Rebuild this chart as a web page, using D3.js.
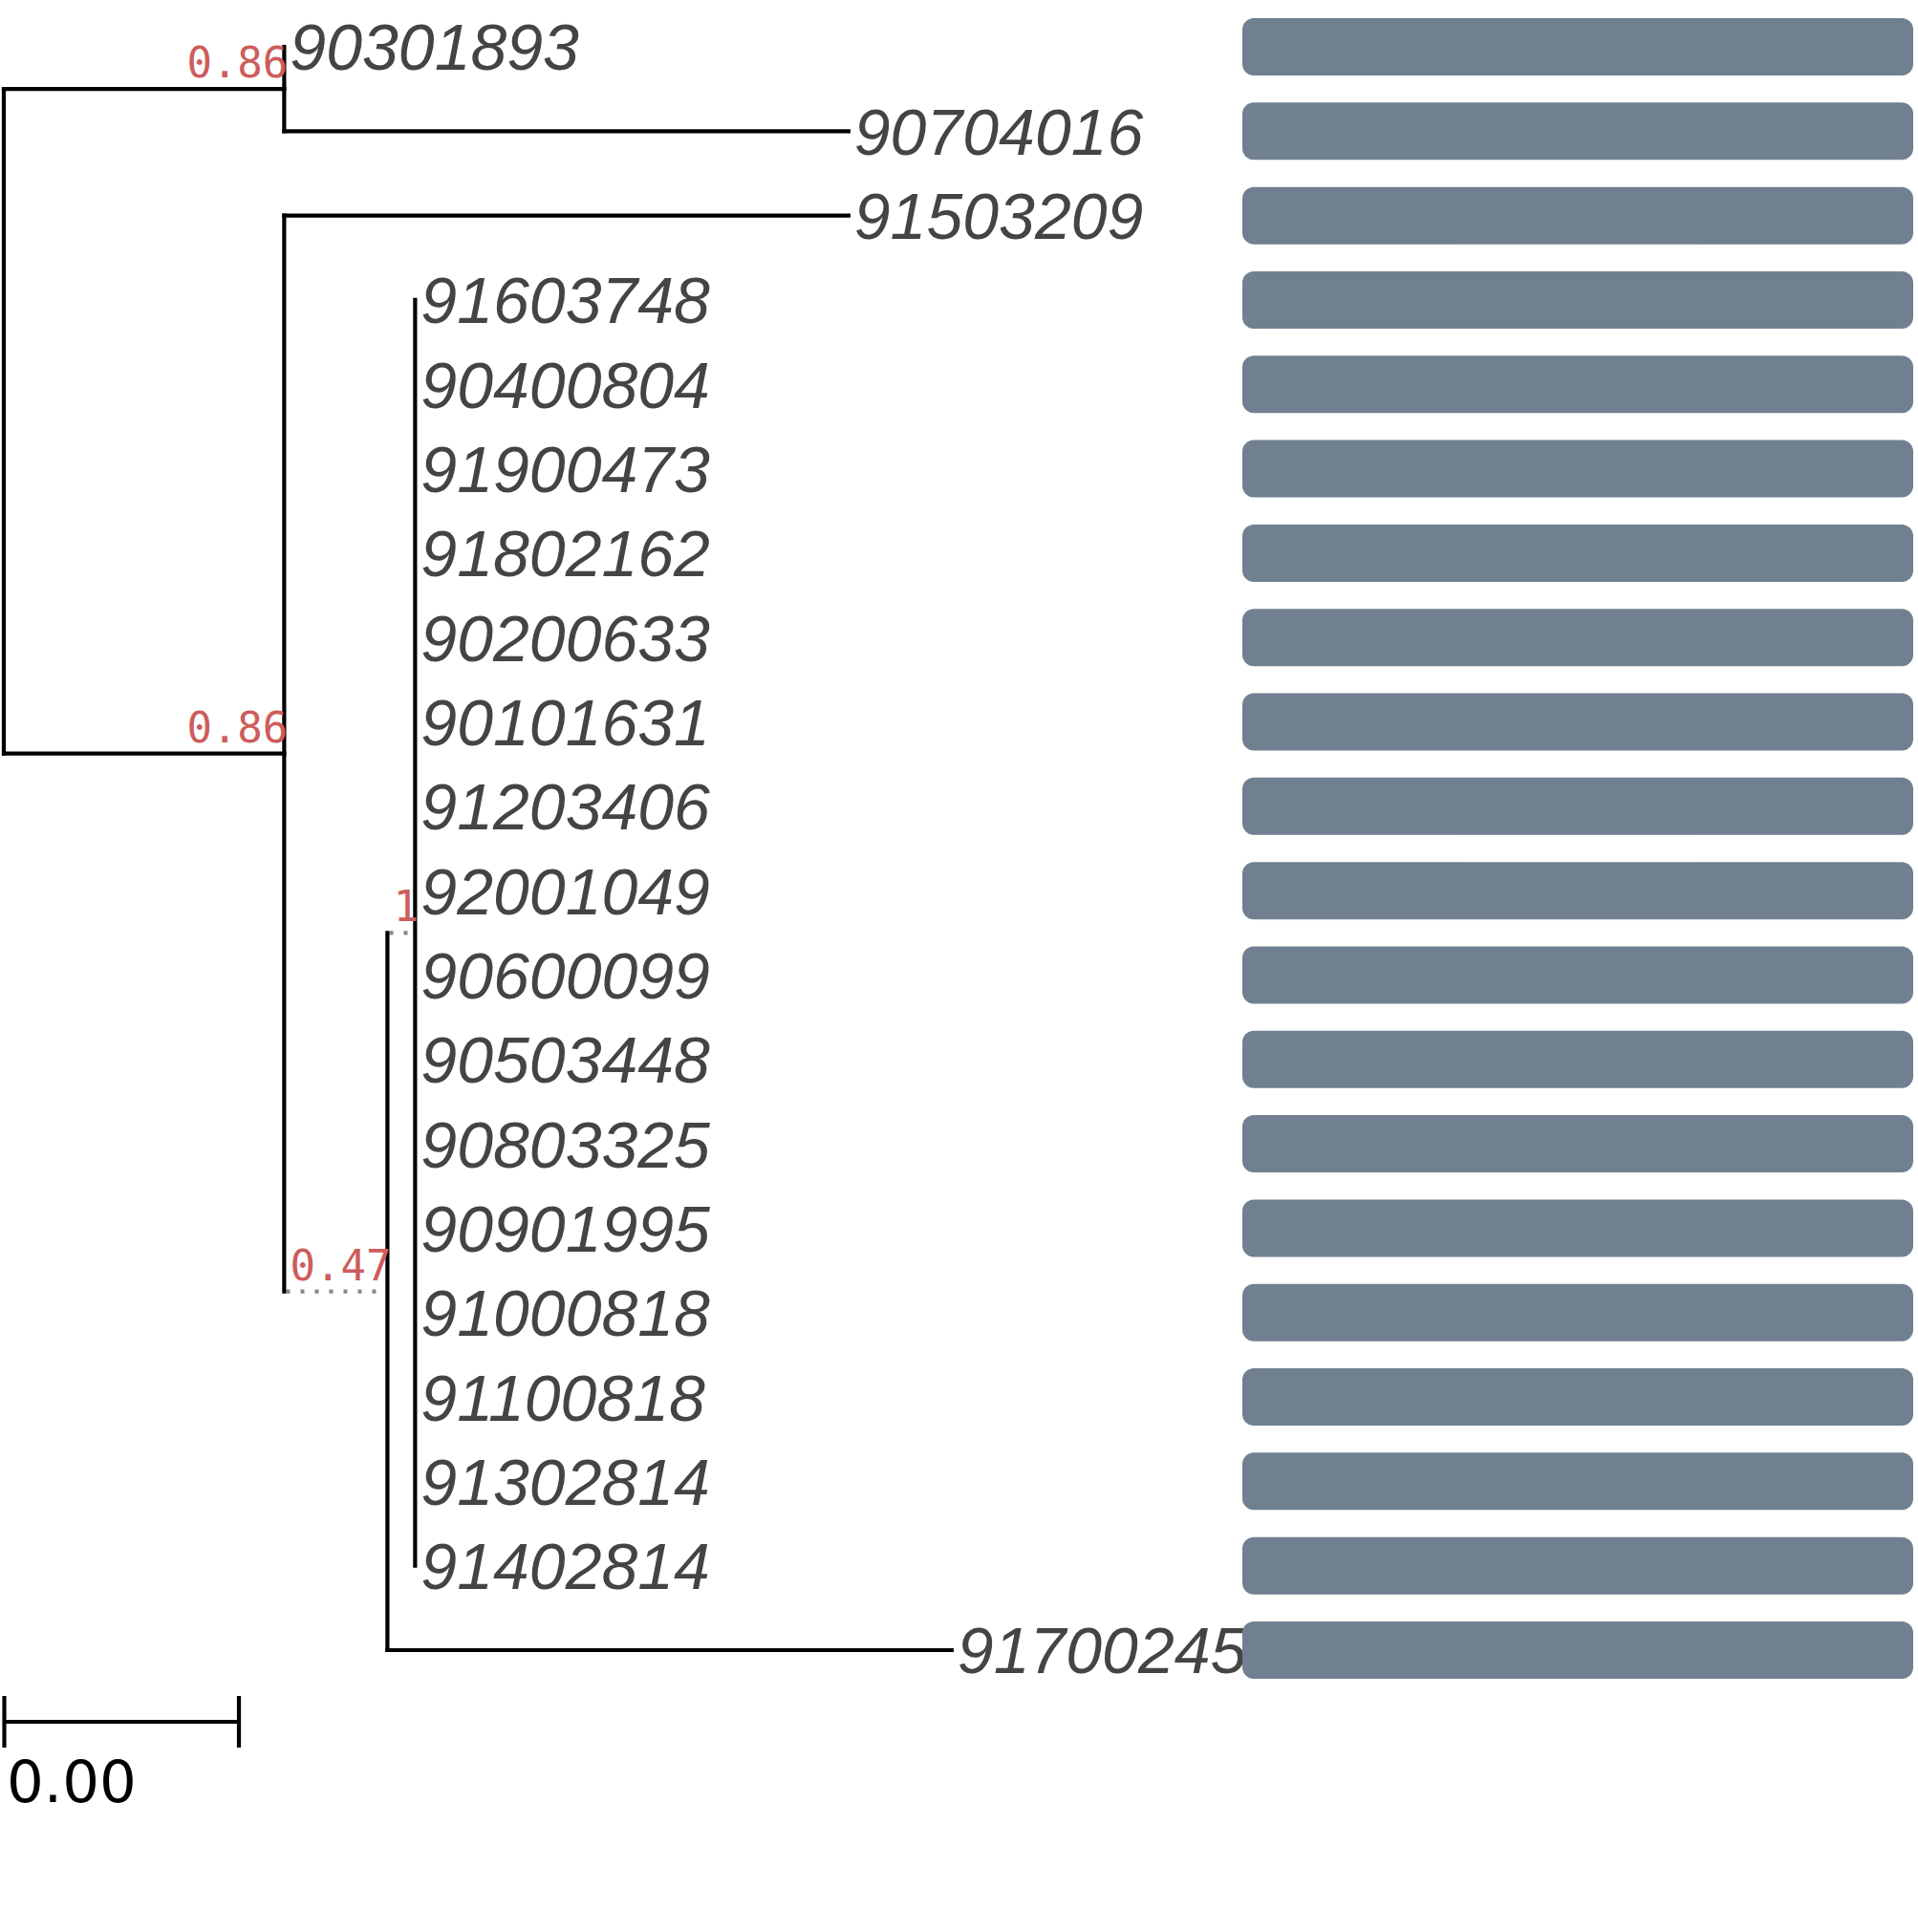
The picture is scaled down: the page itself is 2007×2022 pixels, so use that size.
<!DOCTYPE html>
<html>
<head>
<meta charset="utf-8">
<script src="https://cdn.jsdelivr.net/npm/d3@7"></script>
<style>
  body { margin: 0; background: #fff; }
</style>
</head>
<body>
<svg id="chart" width="2007" height="2022"></svg>
<script>
// tips, top to bottom
const tipLabels = ["90301893", "90704016", "91503209", "91603748", "90400804", "91900473",
  "91802162", "90200633", "90101631", "91203406", "92001049", "90600099", "90503448",
  "90803325", "90901995", "91000818", "91100818", "91302814", "91402814", "91700245"];
const tipParents = ["n21", "n21", "n22", "n24", "n24", "n24", "n24", "n24", "n24", "n24",
  "n24", "n24", "n24", "n24", "n24", "n24", "n24", "n24", "n24", "n23"];
const tipLengths = [0, 0.00481, 0.00481, 0, 0, 0, 0, 0, 0, 0, 0, 0, 0, 0, 0, 0, 0, 0, 0, 0.00481];

// internal nodes
const nodeIds = ["root", "n21", "n22", "n23", "n24"];
const nodeParents = ["", "root", "root", "n22", "n23"];
const nodeLengths = [0, 0.00239, 0.00239, 0.00088, 0.000236];
const nodeSupport = [null, "0.86", "0.86", "0.47", "1"];
const dottedEdges = ["n23", "n24"];

// bar panel
const barValues = [1, 1, 1, 1, 1, 1, 1, 1, 1, 1, 1, 1, 1, 1, 1, 1, 1, 1, 1, 1];

const treeScaleLength = 0.002;

let svg = d3.select("#chart");
const lw = 4.2;

// build table for stratify
let rows = nodeIds.map((id, i) => ({id: id, parent: nodeParents[i], length: nodeLengths[i], support: nodeSupport[i]}))
  .concat(tipLabels.map((id, i) => ({id: id, parent: tipParents[i], length: tipLengths[i], support: null})));

let root = d3.stratify()
  .id(d => d.id)
  .parentId(d => d.parent || null)(rows);

// depth from root
root.eachBefore(n => {
  n.depthLen = n.parent ? n.parent.depthLen + n.data.length : 0;
});
// y: tips by order, internal = mean of children
root.eachAfter(n => {
  if (!n.children) n.row = tipLabels.indexOf(n.id);
  else n.row = d3.mean(n.children, c => c.row);
});

let x = d3.scaleLinear().domain([0, 0.008]).range([4, 986]);
let y = d3.scaleLinear().domain([0, tipLabels.length - 1]).range([49, 1727]);
let xBar = d3.scaleLinear().domain([0, 1]).range([1300, 2002]);

let g = svg.append("g");

// horizontal branches (zero length ones draw nothing)
root.descendants().filter(n => n.parent && n.data.length > 0).forEach(n => {
  let dotted = dottedEdges.includes(n.id);
  g.append("line")
    .attr("x1", x(n.parent.depthLen) + (dotted ? lw / 2 : 0))
    .attr("x2", x(n.depthLen))
    .attr("y1", y(n.row))
    .attr("y2", y(n.row))
    .attr("stroke", dotted ? "#888" : "#000")
    .attr("stroke-width", lw)
    .attr("stroke-dasharray", dotted ? "4 11" : null)
    .attr("stroke-linecap", dotted ? "butt" : "square");
});

// vertical connectors
root.descendants().filter(n => n.children).forEach(n => {
  let ys = n.children.map(c => c.row);
  g.append("line")
    .attr("x1", x(n.depthLen))
    .attr("x2", x(n.depthLen))
    .attr("y1", y(d3.min(ys)))
    .attr("y2", y(d3.max(ys)))
    .attr("stroke", "#000")
    .attr("stroke-width", lw)
    .attr("stroke-linecap", "square");
});

// support values
root.descendants().filter(n => n.data.support).forEach(n => {
  g.append("text")
    .attr("x", x(n.depthLen) + 4)
    .attr("y", y(n.row) - 12)
    .attr("text-anchor", "end")
    .attr("font-family", "DejaVu Sans Mono")
    .attr("font-size", 44)
    .attr("fill", "#CD5C5C")
    .text(n.data.support);
});

// tip labels
root.leaves().forEach(n => {
  g.append("text")
    .attr("x", x(n.depthLen) + 6)
    .attr("y", y(n.row))
    .attr("dy", "0.36em")
    .attr("font-family", "Liberation Sans")
    .attr("font-style", "italic")
    .attr("font-size", 68)
    .attr("fill", "#444")
    .text(n.id);
});

// bars
svg.append("g").selectAll("rect")
  .data(barValues)
  .enter()
  .append("rect")
  .attr("x", xBar(0))
  .attr("y", (d, i) => y(i) - 30)
  .attr("width", d => xBar(d) - xBar(0))
  .attr("height", 60)
  .attr("rx", 12)
  .attr("ry", 12)
  .attr("fill", "#708090");

// tree scale
let sb = svg.append("g");
let sbY = 1802;
sb.append("line")
  .attr("x1", x(0) + 0.5).attr("x2", x(treeScaleLength) + 0.5)
  .attr("y1", sbY).attr("y2", sbY)
  .attr("stroke", "#000").attr("stroke-width", lw);
[0, treeScaleLength].forEach(v => {
  sb.append("line")
    .attr("x1", x(v) + 0.5).attr("x2", x(v) + 0.5)
    .attr("y1", sbY - 27).attr("y2", sbY + 27)
    .attr("stroke", "#000").attr("stroke-width", lw);
});
sb.append("text")
  .attr("x", x(0) + 3)
  .attr("y", 1886)
  .attr("font-family", "DejaVu Sans")
  .attr("font-size", 61)
  .attr("fill", "#000")
  .text(d3.format(".2f")(treeScaleLength));
</script>
</body>
</html>
